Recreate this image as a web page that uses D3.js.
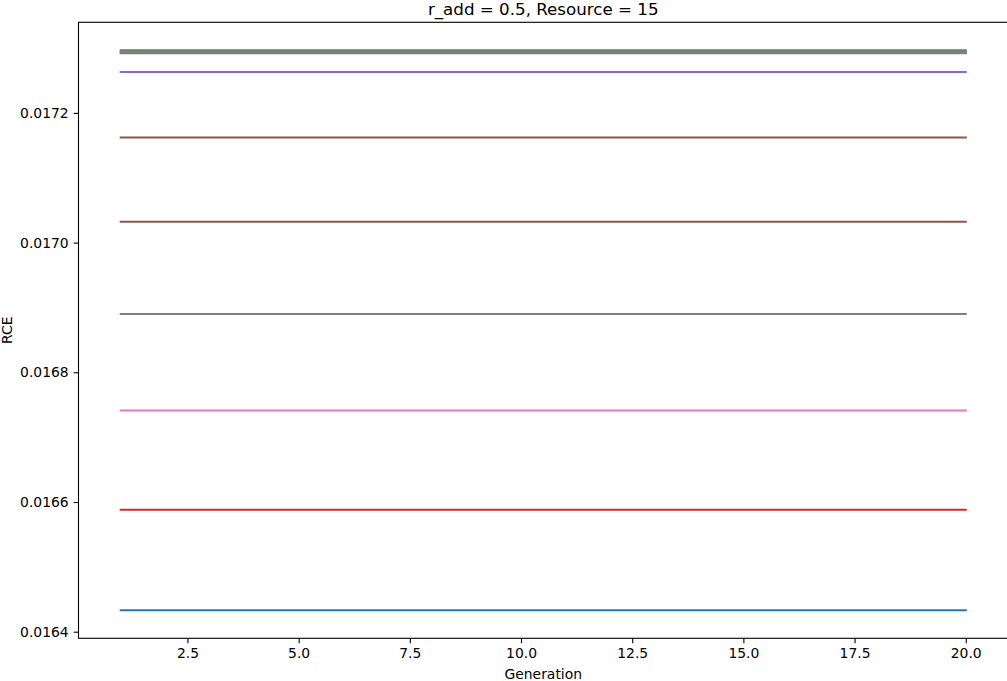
<!DOCTYPE html>
<html><head><meta charset="utf-8">
<script src="https://cdn.jsdelivr.net/npm/d3@7"></script>
<style>body{margin:0;background:#fff}svg{display:block;font-family:"DejaVu Sans",sans-serif}</style>
</head><body>
<svg id="c" width="1007" height="681"></svg>
<script>
const generations = d3.range(1, 21);
const seriesNames = ["s1","s2","s3","s4","s5","s6","s7","s8","s9","s10","s11"];
const seriesValues = [0.016433, 0.016588, 0.016741, 0.016890, 0.017032, 0.017162, 0.017263, 0.0172965, 0.0172950, 0.0172935, 0.0172920];
const seriesColors = ["#1f77b4","#d62728","#e377c2","#7f7f7f","#8c564b","#8c564b","#9467bd","#2ca02c","#7f7f7f","#7f7f7f","#7f7f7f"];
const xTicks = [2.5, 5.0, 7.5, 10.0, 12.5, 15.0, 17.5, 20.0];
const yTicks = [0.0164, 0.0166, 0.0168, 0.0170, 0.0172];
const title = "r_add = 0.5, Resource = 15";

const svg = d3.select("#c");
const L = 78.5, R = 1008, T = 22.3, B = 638.3;
const xMin = d3.min(generations), xMax = d3.max(generations);
const xm = (xMax - xMin) * 0.05;
const x = d3.scaleLinear().domain([xMin - xm, xMax + xm]).range([L, R]);
const yMin = d3.min(seriesValues), yMax = d3.max(seriesValues);
const ym = (yMax - yMin) * 0.05;
const y = d3.scaleLinear().domain([yMin - ym, yMax + ym]).range([B, T]);

const line = d3.line().x(d => x(d.g)).y(d => y(d.v));
seriesValues.forEach((v, i) => {
  svg.append("path")
    .datum(generations.map(g => ({g, v})))
    .attr("d", line).attr("fill", "none")
    .attr("stroke", seriesColors[i]).attr("stroke-width", 2.08)
    .attr("stroke-linecap", "square");
});

const xAxis = d3.axisBottom(x).tickValues(xTicks).tickFormat(d3.format(".1f")).tickSize(4.9).tickPadding(4.9);
const gx = svg.append("g").attr("transform", `translate(0,${B})`).call(xAxis);
const yAxis = d3.axisLeft(y).tickValues(yTicks).tickFormat(d3.format(".4f")).tickSize(4.9).tickPadding(4.9);
const gy = svg.append("g").attr("transform", `translate(${L},0)`).call(yAxis);
[gx, gy].forEach(g => {
  g.select(".domain").remove();
  g.selectAll("text").attr("font-size", 13.9).attr("fill", "#000").attr("font-family", "DejaVu Sans");
  g.selectAll("line").attr("stroke", "#000").attr("stroke-width", 1.1);
});
// spines
svg.append("rect").attr("x", L).attr("y", T).attr("width", R - L).attr("height", B - T)
  .attr("fill", "none").attr("stroke", "#000").attr("stroke-width", 1.1);

svg.append("text").attr("x", (L + R) / 2).attr("y", T - 7).attr("text-anchor", "middle")
  .attr("font-size", 16.7).text(title);
svg.append("text").attr("x", (L + R) / 2).attr("y", 679).attr("text-anchor", "middle")
  .attr("font-size", 13.9).text("Generation");
svg.append("text").attr("transform", `translate(12,${(T + B) / 2}) rotate(-90)`).attr("text-anchor", "middle")
  .attr("font-size", 13.9).text("RCE");
</script>
</body></html>
